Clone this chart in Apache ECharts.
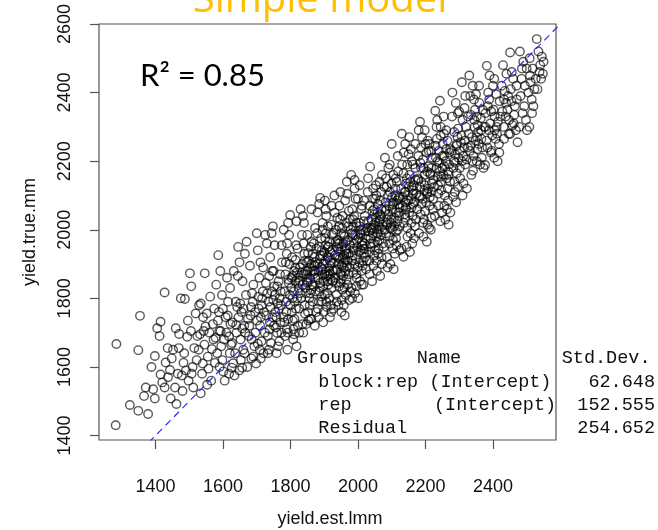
<!DOCTYPE html>
<html><head><meta charset="utf-8">
<script src="https://cdn.jsdelivr.net/npm/echarts@6/dist/echarts.min.js"></script>
<style>html,body{margin:0;padding:0;background:#fff}#c{width:658px;height:530px}</style>
</head><body><div id="c"></div>
<script>
const xTicks = [1400,1600,1800,2000,2200,2400];
const yTicks = [1400,1600,1800,2000,2200,2400,2600];
const refLine = [[1380,1380],[2600,2600]];
const tableHeader = ['Groups','Name','Std.Dev.'];
const tableGroups = ['block:rep','rep','Residual'];
const tableNames = ['(Intercept)','(Intercept)',''];
const tableStdDev = ['62.648','152.555','254.652'];

const ptsA = [
[1282,1430],[1284,1667],[1324,1489],
[1349,1472],[1349,1649],[1354,1749],[1371,1540],[1366,1515],
[1378,1463],[1398,1632],[1393,1535],[1398,1508],[1415,1578],[1405,1713],[1415,1732],[1388,1600],[1420,1555],
[1427,1540],[1427,1817],[1445,1508],[1462,1492],[1443,1591],[1430,1613],[1460,1713],[1470,1696],[1452,1650],[1437,1570],[1466,1580],[1448,1625],
[1475,1800],[1487,1798],[1494,1688],[1502,1873],[1519,1756],[1480,1530],[1498,1560],[1510,1600],[1485,1640],[1515,1655],[1505,1705],[1490,1590],[1522,1620],[1478,1575],[1512,1540],
[1529,1780],[1534,1785],[1546,1873],[1534,1523],[1540,1610],[1552,1756],[1528,1650],[1560,1700],[1545,1665],[1570,1725],[1538,1580],[1555,1630],[1565,1560],[1548,1718],[1572,1680],[1532,1695],[1562,1805],[1557,1595],
[1586,1926],[1580,1840],[1600,1770],[1610,1700],[1595,1660],[1590,1600],[1605,1560],[1620,1640],[1585,1735],[1615,1790],[1578,1685],[1622,1725],[1598,1620],[1612,1860],[1588,1760],[1603,1680],[1618,1580],[1593,1705],[1608,1745],[1624,1665],[1583,1640],[1597,1810],
[1630,1611],[1632,1880],[1645,1950],[1640,1700],[1655,1760],[1660,1650],[1648,1590],[1670,1965],[1628,1730],[1668,1810],[1652,1680],[1642,1775],[1663,1720],[1636,1640],[1672,1600],[1658,1850],[1646,1745],[1666,1700],[1638,1790],[1653,1620],[1674,1740],[1627,1670],[1661,1770],[1649,1905],[1634,1575],[1657,1712],
[1412,1690],[1436,1655],[1458,1540],[1483,1612],[1496,1735],[1507,1580],[1524,1690],[1541,1745],[1553,1548],[1567,1652],[1576,1612],[1589,1705],[1601,1587],[1614,1750],[1626,1598],[1639,1722],[1651,1785],[1664,1640],[1677,1690],[1592,1880],[1621,1830],[1644,1865],[1665,1930],[1506,1835],[1574,1770],[1618,1689],[1657,1598],[1684,1625],[1469,1655],[1543,1705]
];
const ptsB = [
[1700,1990],[1680,1895],[1690,1840],[1705,1805],[1695,1760],[1710,1720],[1685,1680],[1720,1640],[1698,1610],[1715,1780],[1682,1750],[1708,1860],[1724,1700],[1688,1790],[1712,1745],[1693,1660],[1718,1820],[1703,1940],[1678,1720],[1722,1760],[1696,1700],[1714,1675],[1686,1815],[1706,1770],[1719,1890],[1690,1630],[1701,1735],[1716,1800],[1683,1775],[1709,1650],
[1759,1640],[1730,1960],[1740,1920],[1750,1880],[1765,1850],[1745,1820],[1735,1790],[1755,1760],[1770,1730],[1760,1700],[1742,1670],[1728,1750],[1768,1800],[1752,1835],[1737,1865],[1772,1780],[1747,1745],[1757,1715],[1733,1690],[1763,1660],[1775,1905],[1744,1990],[1754,1810],[1766,1770],[1739,1730],[1749,1795],[1761,1835],[1731,1815],[1758,1745],[1773,1700],[1741,1775],[1769,1870],[1751,1720],[1736,1650],
[1799,2043],[1780,2000],[1790,1960],[1805,1920],[1815,1890],[1785,1870],[1795,1845],[1810,1820],[1820,1800],[1800,1780],[1788,1760],[1812,1740],[1822,1720],[1792,1700],[1808,1680],[1818,1660],[1783,1820],[1797,1900],[1803,1860],[1814,1850],[1824,1830],[1787,1790],[1793,1740],[1806,1800],[1816,1770],[1802,1830],[1782,1730],[1798,1810],[1811,1880],[1821,1945],[1789,1930],[1809,1710],[1819,1875],[1794,1855],[1804,1760],[1784,1690],[1813,1790],[1823,1860],
[1830,2060],[1840,2020],[1850,1985],[1860,1950],[1870,1920],[1835,1900],[1845,1880],[1855,1860],[1865,1840],[1875,1820],[1832,1800],[1842,1780],[1852,1760],[1862,1740],[1872,1720],[1838,1700],[1848,1870],[1858,1890],[1868,1870],[1828,1850],[1844,1830],[1854,1910],[1864,1880],[1874,1860],[1836,1840],[1846,1815],[1856,1800],[1866,1790],[1826,1770],[1841,1930],[1851,1845],[1861,1825],[1871,1895],[1833,1875],[1843,1755],[1853,1735],[1863,1965],[1873,2005],[1839,1960],[1849,1905],[1859,1855],[1869,1835],[1829,1815],[1857,1780],
[1888,2093],[1880,2050],[1895,2020],[1905,1990],[1915,1965],[1885,1950],[1900,1935],[1910,1920],[1920,1905],[1890,1890],[1905,1880],[1918,1870],[1882,1860],[1898,1850],[1912,1840],[1922,1830],[1886,1820],[1902,1810],[1916,1800],[1893,1790],[1908,1775],[1921,1760],[1884,1745],[1897,1730],[1913,1950],[1924,1940],[1889,1925],[1903,1910],[1917,1895],[1881,1900],[1894,1885],[1907,1865],[1919,1855],[1887,1845],[1901,1870],[1914,1920],[1923,1985],[1891,1975],[1906,2040],[1911,2010],[1896,1835],[1909,1815],[1883,1880],[1899,1900],[1904,1955],[1915,1880],[1892,1805],[1920,1780],
[1967,2140],[1930,2100],[1945,2070],[1955,2040],[1965,2020],[1935,2000],[1950,1990],[1960,1980],[1970,1970],[1940,1960],[1952,1950],[1962,1940],[1972,1930],[1932,1925],[1946,1915],[1958,1905],[1968,1895],[1938,1885],[1948,1875],[1956,1865],[1966,1855],[1934,1845],[1944,1835],[1954,1825],[1964,1810],[1974,1795],[1942,1780],[1951,1760],[1961,1750],[1937,1950],[1947,1935],[1957,1960],[1969,1910],[1929,1905],[1941,1970],[1953,1895],[1963,1880],[1973,1870],[1933,1860],[1943,1900],[1959,1925],[1971,2010],[1939,2035],[1949,1845],[1960,1830],[1936,1810],[1955,1920],[1965,1945],[1975,1890],[1945,1960],
[1703,1668],[1711,1905],[1727,1845],[1738,1710],[1746,1880],[1753,1955],[1762,1785],[1771,1820],[1779,1745],[1786,1905],[1791,1650],[1796,1985],[1807,1735],[1817,1955],[1826,1700],[1834,1985],[1843,1910],[1847,1725],[1858,1815],[1866,1930],[1877,1760],[1879,1990],[1884,1790],[1893,1940],[1898,1760],[1904,2060],[1910,1850],[1917,1745],[1926,1880],[1931,2050],[1937,1790],[1944,2010],[1950,1855],[1958,1780],[1962,2085],[1969,1840],[1976,1955],[1983,1800],[1989,2040],[1996,1835],
[1725,1985],[1748,2010],[1774,1955],[1793,2020],[1818,2025],[1837,2040],[1862,2060],[1885,2075],[1902,2085],[1922,2070],[1948,2110],[1968,2105],[1990,2145],
[1712,1625],[1733,1640],[1767,1675],[1789,1710],[1811,1695],[1836,1725],[1858,1740],[1881,1770],[1906,1790],[1927,1770],[1952,1795],[1977,1820],
[1806,1865],[1828,1890],[1851,1880],[1873,1905],[1896,1925],[1918,1935],[1941,1945],[1964,1965],[1986,1985],[1838,1870],[1862,1900],[1887,1915],[1911,1950],[1934,1965],[1957,1985],[1979,2000],[1824,1845],[1849,1850],[1872,1880],[1894,1870],[1918,1910],[1942,1920],[1966,1930],[1988,1940],
[1815,1912],[1852,1932],[1877,1945],[1903,1975],[1928,1990],[1953,2005],[1976,2030],[1869,1960],[1895,2000],[1921,2015],[1947,2030],[1973,2055],
[1933,1882],[1958,1890],[1983,1910],[1912,1868],[1887,1832],[1962,1912],[1925,1850],[1950,1870]
];
const ptsC = [
[1980,2160],[1990,2120],[2000,2090],[2010,2060],[2020,2040],[1985,2030],[1995,2020],[2005,2010],[2015,2000],[2022,1995],[1982,1990],[1992,1985],[2002,1975],[2012,1965],[1988,1960],[1998,1950],[2008,1940],[2018,1930],[1984,1925],[1994,1915],[2004,1905],[2014,1895],[2024,1885],[1986,1875],[1996,1860],[2006,1850],[2016,1840],[1981,1830],[1991,1815],[2001,1800],[2011,1880],[2021,1920],[1987,1945],[1997,1970],[2007,1990],[2017,2025],[1983,2060],[1993,2090],[2003,1935],[2013,1955],[2023,1975],[1989,1900],[1999,1890],[2009,2000],[2019,1960],[1985,2010],[2005,2130],[2015,1910],[1995,1870],[2020,1945],
[2036,2184],[2030,2150],[2045,2120],[2055,2100],[2065,2085],[2035,2070],[2048,2060],[2058,2050],[2068,2040],[2040,2030],[2052,2020],[2062,2010],[2072,2000],[2032,1995],[2044,1990],[2054,1980],[2064,1970],[2074,1960],[2038,1950],[2050,1940],[2060,1930],[2070,1920],[2034,1910],[2046,1895],[2056,1880],[2066,1865],[2042,1850],[2053,2035],[2063,2025],[2073,2015],[2039,2005],[2049,2045],[2059,2075],[2069,2110],[2037,1975],[2047,1960],[2057,2000],[2067,1985],[2031,2025],[2043,2055],[2061,1945],[2071,1900],[2051,2090],[2033,1935],[2064,2140],[2045,2005],[2055,1910],[2070,2060],
[2100,2250],[2080,2210],[2090,2180],[2105,2160],[2115,2140],[2085,2125],[2095,2110],[2110,2100],[2120,2090],[2082,2080],[2092,2070],[2102,2060],[2112,2050],[2122,2040],[2088,2030],[2098,2020],[2108,2010],[2118,2000],[2084,1990],[2094,1980],[2104,1970],[2114,1955],[2124,1940],[2086,1920],[2096,1900],[2106,1885],[2116,2085],[2081,2055],[2091,2045],[2101,2095],[2111,2120],[2121,2075],[2087,2015],[2097,2005],[2107,2035],[2117,2025],[2083,2150],[2093,1960],[2103,1945],[2113,1995],[2123,2065],[2089,2100],[2099,2135],[2109,1930],[2119,2170],
[2135,1921],[2130,2280],[2140,2250],[2150,2220],[2160,2200],[2170,2180],[2135,2165],[2145,2150],[2155,2140],[2165,2130],[2128,2120],[2138,2110],[2148,2100],[2158,2090],[2168,2080],[2132,2070],[2142,2060],[2152,2050],[2162,2040],[2172,2030],[2136,2020],[2146,2005],[2156,1990],[2166,1975],[2144,1950],[2154,1935],[2164,2115],[2133,2095],[2143,2135],[2153,2160],[2163,2190],[2173,2105],[2139,2045],[2149,2085],[2159,2065],[2169,2010],[2131,2190],[2141,2035],[2151,2125],[2161,1960],[2171,2145],[2157,2235],
[2184,2315],[2180,2290],[2190,2270],[2200,2250],[2210,2230],[2220,2210],[2185,2195],[2195,2180],[2205,2170],[2215,2160],[2178,2150],[2188,2140],[2198,2130],[2208,2120],[2218,2110],[2182,2100],[2192,2090],[2202,2080],[2212,2070],[2222,2060],[2186,2045],[2196,2030],[2206,2015],[2216,2000],[2194,1980],[2204,1965],[2214,2165],[2224,2145],[2183,2125],[2193,2205],[2203,2225],[2213,2095],[2189,2075],[2199,2055],[2209,2185],[2219,2135],[2187,2240],[2197,2115],[2217,2035],[2207,2260],
[2243,2376],[2229,2347],[2235,2320],[2245,2300],[2255,2280],[2265,2260],[2230,2245],[2240,2230],[2250,2215],[2260,2200],[2270,2190],[2233,2180],[2243,2170],[2253,2160],[2263,2150],[2273,2140],[2237,2130],[2247,2115],[2257,2100],[2267,2085],[2239,2070],[2249,2050],[2259,2030],[2269,2015],[2231,2210],[2241,2195],[2251,2250],[2261,2235],[2271,2225],[2236,2155],[2246,2140],[2256,2185],[2266,2120],[2234,2265],[2254,2330],[2264,2060],
[2003,2020],[2011,1840],[2018,2085],[2026,1910],[2029,2110],[2035,1870],[2041,2000],[2048,1925],[2053,2130],[2058,1965],[2066,2030],[2071,2160],[2077,1950],[2083,2020],[2088,1890],[2094,2190],[2101,2000],[2106,2080],[2113,1975],[2118,2215],[2124,2010],[2129,1945],[2136,2225],[2141,2080],[2147,1980],[2152,2270],[2158,2020],[2163,2105],[2170,2250],[2176,2060],[2181,1990],[2187,2180],[2193,2020],[2198,2290],[2205,2105],[2211,2005],[2217,2230],[2223,2090],[2228,2040],[2233,2300],[2238,2105],[2244,2025],[2250,2180],[2256,2070],[2262,2290],[2268,2160],[2274,2050],[2279,2330],[2285,2200],[2291,2080],[2296,2340],[2302,2180],[2310,2100],[2318,2390],
[2008,1985],[2027,2005],[2046,2015],[2065,2045],[2084,2060],[2103,2075],[2122,2095],[2141,2110],[2160,2125],[2179,2145],[2198,2160],[2217,2180],[2236,2200],[2255,2215],[2274,2235],[2293,2250],
[2016,1945],[2037,1960],[2058,1990],[2079,2000],[2099,2030],[2121,2050],[2142,2065],[2163,2075],[2184,2095],[2205,2110],[2226,2125],[2247,2155],[2268,2170],[2289,2195],
[2012,2070],[2045,2090],[2078,2125],[2112,2150],[2146,2190],[2179,2215],[2212,2250],[2245,2275]
];
const ptsD = [
[2308,2430],[2282,2096],[2280,2400],[2290,2370],[2300,2345],[2310,2320],[2320,2300],[2285,2285],[2295,2270],[2305,2255],[2315,2240],[2278,2230],[2288,2220],[2298,2210],[2308,2200],[2318,2190],[2283,2180],[2293,2165],[2303,2150],[2313,2135],[2323,2120],[2287,2110],[2297,2295],[2307,2275],[2317,2260],[2292,2245],[2302,2230],[2312,2215],[2322,2205],[2286,2140],[2296,2125],[2316,2355],
[2341,2172],[2330,2450],[2340,2420],[2350,2395],[2360,2370],[2370,2350],[2335,2335],[2345,2320],[2355,2305],[2365,2290],[2328,2280],[2338,2270],[2348,2260],[2358,2250],[2368,2240],[2332,2230],[2342,2215],[2352,2200],[2362,2190],[2372,2180],[2336,2160],[2346,2300],[2356,2285],[2366,2265],[2334,2245],[2344,2380],[2354,2235],[2364,2325],
[2377,2189],[2382,2478],[2390,2450],[2400,2420],[2410,2395],[2420,2375],[2385,2360],[2395,2345],[2405,2330],[2415,2315],[2378,2300],[2388,2290],[2398,2275],[2408,2265],[2418,2250],[2384,2240],[2394,2225],[2404,2210],[2414,2200],[2392,2310],[2402,2350],[2412,2280],[2422,2330],[2386,2400],
[2451,2279],[2451,2517],[2430,2480],[2440,2455],[2460,2440],[2470,2420],[2435,2405],[2445,2390],[2455,2375],[2465,2360],[2428,2345],[2438,2330],[2448,2320],[2458,2305],[2468,2290],[2433,2265],[2443,2350],[2453,2410],[2463,2335],[2473,2255],
[2480,2520],[2490,2490],[2500,2470],[2510,2450],[2485,2440],[2495,2420],[2505,2400],[2515,2380],[2520,2360],[2488,2340],[2498,2320],[2508,2300],[2518,2470],[2482,2390],[2512,2430],
[2530,2556],[2535,2520],[2545,2505],[2540,2480],[2550,2490],[2543,2440],[2548,2455],[2532,2410],
[2326,2240],[2333,2390],[2339,2200],[2347,2350],[2353,2270],[2359,2420],[2367,2210],[2374,2300],[2381,2260],[2389,2380],[2396,2230],[2404,2440],[2411,2300],[2419,2225],[2426,2420],[2432,2300],[2439,2370],[2447,2280],[2456,2460],[2462,2310],[2471,2380],[2478,2300],[2486,2470],[2493,2360],[2501,2290],[2509,2500],[2516,2340],[2523,2410],[2527,2440],[2538,2460],[2326,2330],[2352,2330],[2378,2340],[2405,2290],[2433,2380]
];
const points = ptsA.concat(ptsB, ptsC, ptsD);

const chart = echarts.init(document.getElementById('c'), null, {renderer:'canvas'});
const axisFont = {fontFamily:'Liberation Sans', fontSize:18, color:'#111', formatter:function(v){return String(v);}};
const mono = {fontFamily:'Liberation Mono', fontSize:18.5, fill:'#111'};
function t(x,y,text,align){return {type:'text',x:x,y:y,silent:true,style:Object.assign({text:text,align:align||'left',verticalAlign:'middle'},mono)};}
const rowsY = [358, 381.7, 405, 428.3];
const graphics = [
  {type:'text', x:320, y:1, style:{text:'Simple model', fontFamily:'Open Sans', fontSize:40, fill:'#FFC000', align:'center', verticalAlign:'middle'}},
  {type:'text', x:140, y:76, style:{text:'R\u00B2 = 0.85', fontFamily:'Lato', fontSize:31, fill:'#000', align:'left', verticalAlign:'middle'}},
  {type:'text', x:30, y:232, rotation:Math.PI/2, style:{text:'yield.true.mm', fontFamily:'Liberation Sans', fontSize:18, fill:'#111', align:'center', verticalAlign:'middle'}},
  {type:'text', x:330, y:519, style:{text:'yield.est.lmm', fontFamily:'Liberation Sans', fontSize:18, fill:'#111', align:'center', verticalAlign:'middle'}},
  t(297, rowsY[0], tableHeader[0]), t(416.7, rowsY[0], tableHeader[1]), t(561.7, rowsY[0], tableHeader[2]),
  t(318.3, rowsY[1], tableGroups[0]+' '+tableNames[0]), t(655, rowsY[1], tableStdDev[0], 'right'),
  t(318.3, rowsY[2], tableGroups[1]), t(434, rowsY[2], tableNames[1]), t(655, rowsY[2], tableStdDev[1], 'right'),
  t(318.3, rowsY[3], tableGroups[2]), t(655, rowsY[3], tableStdDev[2], 'right')
];
chart.setOption({
  animation:false,
  backgroundColor:'#fff',
  grid:{left:99, top:24, right:102, bottom:90, show:true, borderColor:'#555', borderWidth:1.2, backgroundColor:'transparent'},
  xAxis:{type:'value', min:1232.5, max:2587, splitLine:{show:false}, axisLine:{show:false},
    axisTick:{show:true, length:9, lineStyle:{color:'#555', width:1.2}, customValues:xTicks},
    axisLabel:Object.assign({show:true, margin:38, customValues:xTicks}, axisFont)},
  yAxis:{type:'value', min:1387, max:2600, splitLine:{show:false}, axisLine:{show:false},
    axisTick:{show:true, length:9, lineStyle:{color:'#555', width:1.2}, customValues:yTicks},
    axisLabel:Object.assign({show:true, margin:25, rotate:90, customValues:yTicks}, axisFont)},
  graphic: graphics,
  series:[
    {type:'scatter', data:points, symbol:'circle', symbolSize:8.5, silent:true,
     itemStyle:{color:'rgba(0,0,0,0)', borderColor:'rgba(0,0,0,0.82)', borderWidth:1.4}},
    {type:'line', data:refLine, clip:true, symbol:'none', silent:true,
     lineStyle:{color:'#2a2aff', width:1.2, type:[7,5]}}
  ]
});
</script></body></html>
